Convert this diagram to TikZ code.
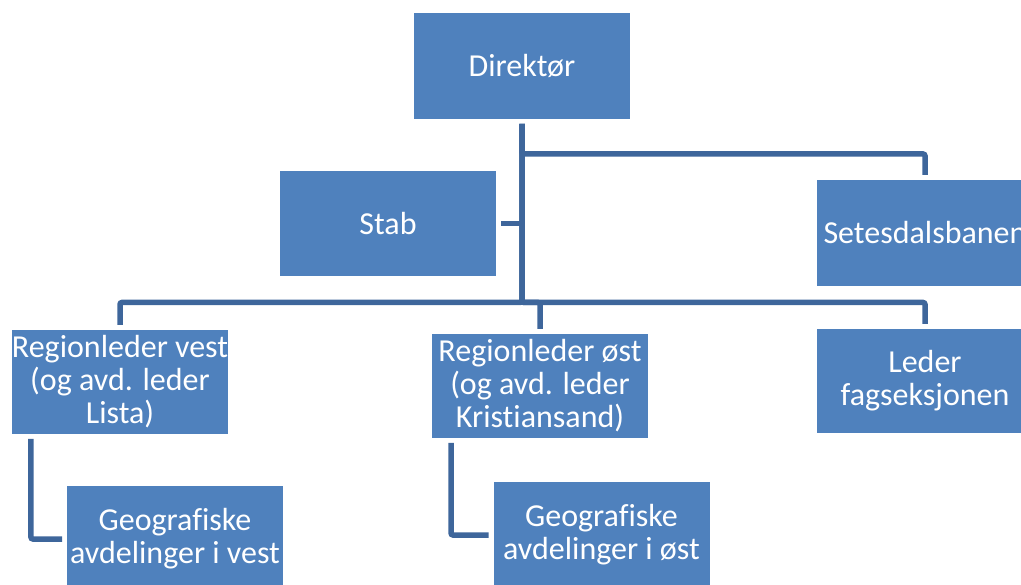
\documentclass[tikz,border=0pt]{standalone}
\usepackage{fontspec}
\setmainfont{Carlito}[Ligatures=NoCommon]
\usepackage{xcolor}
\usepackage{tikz}

\definecolor{boxblue}{RGB}{79,129,189}
\definecolor{lineblue}{RGB}{62,102,155}

\tikzset{
	unit/.style={rectangle, fill=boxblue, text=white, align=center,
		minimum width=216pt, minimum height=105pt, inner sep=0pt, outer sep=5pt,
		font=\fontsize{32}{33}\selectfont},
	conn/.style={draw=lineblue, line width=5.5pt, rounded corners=2pt}
}

\begin{document}
\begin{tikzpicture}[x=1pt, y=-1pt]
				\useasboundingbox (0, 0) rectangle (1021, 585);
				
				%Level 1
				\node[unit, minimum height=106pt] (dir) at (522, 66) {Direktør};
				
				%Staff and railway
				\node[unit] (stab) at (388, 223.5) {Stab};
				\node[unit, minimum height=106pt] (setes) at (925, 233) {Setesdalsbanen};
				
				%Level 2
				\node[unit, minimum height=104pt] (vest) at (120, 382) {Regionleder vest\\(og avd. leder\\Lista)};
				\node[unit, minimum height=104pt] (ost) at (540, 386) {Regionleder øst\\(og avd. leder\\Kristiansand)};
				\node[unit, minimum height=104pt] (fag) at (925, 381) {Leder\\fagseksjonen};
				
				%Level 3
				\node[unit, minimum height=106pt] (geovest) at (175, 539) {Geografiske\\avdelinger i vest};
				\node[unit, minimum height=106pt] (geoost) at (601.5, 535) {Geografiske\\avdelinger i øst};
				
				%Bars
				\coordinate (upbar) at (522, 154);
				\coordinate (lowbar) at (522, 302.5);
				
				%Lines
				\draw[conn] (dir.south) -- (upbar) -| (setes.north);
				\draw[conn] (stab.east) -- (stab.east -| dir.south);
				\draw[conn] (dir.south) -- (lowbar) -| (vest.north);
				\draw[conn] (dir.south) -- (lowbar) -| (ost.north);
				\draw[conn] (dir.south) -- (lowbar) -| (fag.north);
				
				%Sub units
				\draw[conn] ([xshift=24pt]vest.south west) |- (geovest.west);
				\draw[conn] ([xshift=24pt]ost.south west) |- (geoost.west);
			\end{tikzpicture}
\end{document}
